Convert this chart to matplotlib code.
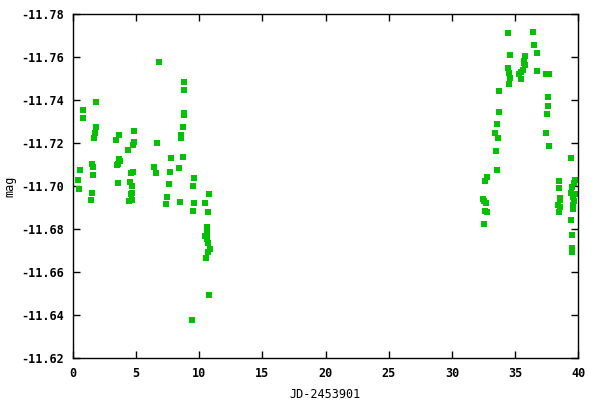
import matplotlib
matplotlib.use("Agg")
import matplotlib.pyplot as plt

# --- data ---
jd = [6.86, 8.84, 8.84, 1.88, 0.86, 0.86, 8.84, 8.84, 1.88, 8.76,
      4.89, 1.80, 3.70, 8.60, 8.60, 1.73, 3.46, 4.89, 4.81, 6.71,
      4.41, 7.81, 8.76, 3.65, 3.78, 3.62, 3.54, 1.57, 1.65, 0.62,
      6.47, 8.45, 6.63, 7.73, 4.65, 4.81, 1.65, 9.63, 0.46, 3.57,
      4.57, 7.65, 4.73, 9.55, 0.54, 1.57, 4.73, 4.65, 7.50, 10.82,
      1.49, 4.73, 4.49, 7.42, 8.52, 9.63, 10.50, 9.55, 10.74, 10.66,
      10.66, 10.50, 10.66, 10.74, 10.90, 10.74, 10.58, 10.82, 9.47,
      34.45, 36.43, 36.51, 34.61, 36.75, 35.80, 35.72, 35.80, 35.72, 34.45,
      35.64, 36.75, 34.53, 35.48, 35.32, 37.46, 37.69, 34.61, 35.48, 34.53,
      33.74, 37.62, 37.62, 37.54, 33.74, 33.58, 33.43, 33.66, 37.46, 37.69,
      33.50, 33.58, 39.43, 32.79, 32.63, 38.48, 39.75, 39.67, 39.51, 38.48,
      39.43, 39.75, 32.48, 32.56, 32.71, 38.56, 38.56, 39.59, 39.67, 38.41,
      38.56, 39.59, 38.48, 39.59, 32.63, 32.79, 32.56, 39.43, 39.51, 39.51,
      39.51]
mag = [-11.7577, -11.7484, -11.7447, -11.7391, -11.7354, -11.7316, -11.7343, -11.7330, -11.7274, -11.7274,
       -11.7256, -11.7247, -11.7237, -11.7240, -11.7225, -11.7223, -11.7214, -11.7205, -11.7191, -11.7200,
       -11.7168, -11.7130, -11.7135, -11.7126, -11.7116, -11.7102, -11.7098, -11.7102, -11.7088, -11.7074,
       -11.7092, -11.7084, -11.7061, -11.7065, -11.7061, -11.7065, -11.7051, -11.7037, -11.7028, -11.7014,
       -11.7019, -11.7010, -11.7000, -11.7000, -11.6986, -11.6968, -11.6968, -11.6963, -11.6949, -11.6963,
       -11.6935, -11.6935, -11.6930, -11.6916, -11.6926, -11.6921, -11.6921, -11.6884, -11.6879, -11.6809,
       -11.6782, -11.6768, -11.6754, -11.6735, -11.6707, -11.6693, -11.6665, -11.6493, -11.6377,
       -11.7712, -11.7716, -11.7656, -11.7609, -11.7619, -11.7605, -11.7581, -11.7563, -11.7572, -11.7553,
       -11.7540, -11.7535, -11.7526, -11.7530, -11.7521, -11.7521, -11.7521, -11.7502, -11.7498, -11.7474,
       -11.7442, -11.7414, -11.7372, -11.7338, -11.7344, -11.7288, -11.7247, -11.7223, -11.7247, -11.7186,
       -11.7163, -11.7075, -11.7130, -11.7042, -11.7023, -11.7023, -11.7028, -11.7014, -11.6996, -11.6991,
       -11.6968, -11.6963, -11.6940, -11.6930, -11.6921, -11.6944, -11.6935, -11.6949, -11.6930, -11.6912,
       -11.6902, -11.6912, -11.6879, -11.6893, -11.6884, -11.6879, -11.6823, -11.6842, -11.6772, -11.6712,
       -11.6693]

x_ticks = [0, 5, 10, 15, 20, 25, 30, 35, 40]
y_ticks = [-11.78, -11.76, -11.74, -11.72, -11.70, -11.68, -11.66, -11.64, -11.62]

plt.rcParams['font.family'] = 'DejaVu Sans Mono'
plt.rcParams['font.weight'] = 'bold'
plt.rcParams['font.size'] = 8.5

fig = plt.figure(figsize=(6, 4), dpi=100)
ax = fig.add_axes([0.121, 0.104, 0.843, 0.86])

ax.plot(jd, mag, linestyle='none', marker='s', markersize=3.8,
        color='#00c000', markeredgewidth=0)

ax.set_xlim(0, 40)
ax.set_ylim(-11.62, -11.78)
ax.set_xticks(x_ticks)
ax.set_yticks(y_ticks)
ax.set_yticklabels([f"{v:.2f}" for v in y_ticks])
ax.tick_params(direction='in', length=5, width=1, top=True, right=True,
               pad=6, colors='black')
for s in ax.spines.values():
    s.set_linewidth(1)

ax.set_xlabel("JD-2453901", labelpad=6)
ax.set_ylabel("mag")
ax.yaxis.set_label_coords(-0.112, 0.5)

fig.savefig("out.png", dpi=100)
